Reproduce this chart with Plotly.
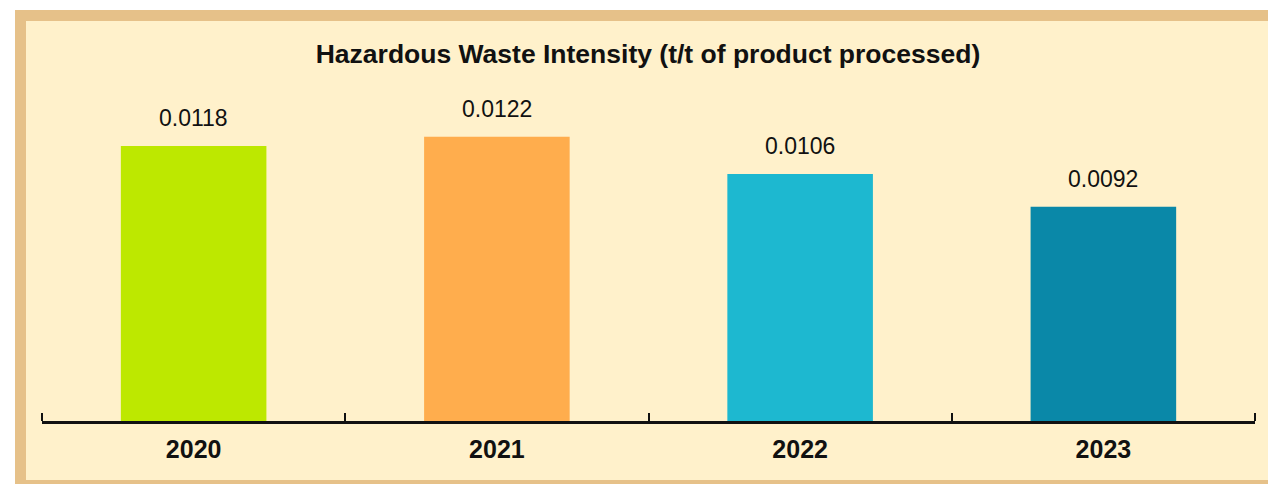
import plotly.graph_objects as go

years = ["2020", "2021", "2022", "2023"]
values = [0.0118, 0.0122, 0.0106, 0.0092]
labels = ["0.0118", "0.0122", "0.0106", "0.0092"]
colors = ["#BDE800", "#FFAD4D", "#1DB8D0", "#0A88A8"]

title_text = "Hazardous Waste Intensity (t/t of product processed)"

W, H = 1268, 484
ml, mr, mt, mb = 42, 13, 71, 63
pw, ph = W - ml - mr, H - mt - mb

def px_x(p):
    return (p - ml) / pw

def px_y(p):
    return (H - mb - p) / ph

FONT = "Liberation Sans"
idx = list(range(len(years)))
bounds = [i - 0.5 for i in idx] + [idx[-1] + 0.5]

fig = go.Figure()
fig.add_trace(go.Bar(
    x=idx, y=values, marker=dict(color=colors, line=dict(width=0)),
    width=0.48, hoverinfo="skip",
))

for i, (v, t) in enumerate(zip(values, labels)):
    fig.add_annotation(
        x=i, y=v, xref="x", yref="y", text=t, showarrow=False,
        yanchor="middle", yshift=28,
        font=dict(family=FONT, size=23, color="#111111"),
    )

shapes = [
    dict(type="rect", xref="paper", yref="paper", layer="below",
         x0=px_x(15), x1=px_x(1400), y0=px_y(520), y1=px_y(10),
         fillcolor="#E6C189", line=dict(width=0)),
    dict(type="rect", xref="paper", yref="paper", layer="below",
         x0=px_x(26), x1=px_x(1400), y0=px_y(480), y1=px_y(21),
         fillcolor="#FFF1CB", line=dict(width=0)),
]

fig.update_layout(
    width=W, height=H,
    margin=dict(l=ml, r=mr, t=mt, b=mb),
    paper_bgcolor="white",
    plot_bgcolor="rgba(0,0,0,0)",
    shapes=shapes,
    showlegend=False,
    title=dict(text="<b>" + title_text + "</b>", x=648 / W, xanchor="center",
               xref="container",
               y=1 - 54 / H, yanchor="middle", yref="container",
               font=dict(family=FONT, size=26.5, color="#111111")),
    xaxis=dict(
        type="linear", range=[bounds[0], bounds[-1]],
        tickmode="array", tickvals=idx, ticktext=years, ticks="",
        minor=dict(tickmode="array", tickvals=bounds, ticks="inside",
                   ticklen=8, tickwidth=2, tickcolor="#111111", showgrid=False),
        showline=True, linecolor="#111111", linewidth=2.5,
        tickfont=dict(family=FONT, size=25, color="#111111", weight="bold"),
        ticklabelstandoff=4, showgrid=False, zeroline=False,
    ),
    yaxis=dict(visible=False, range=[0, ph / 23300]),
    bargap=0.52,
)

fig.write_html("out.html", config={"displayModeBar": False},
               post_script="document.body.style.margin='0px';")
